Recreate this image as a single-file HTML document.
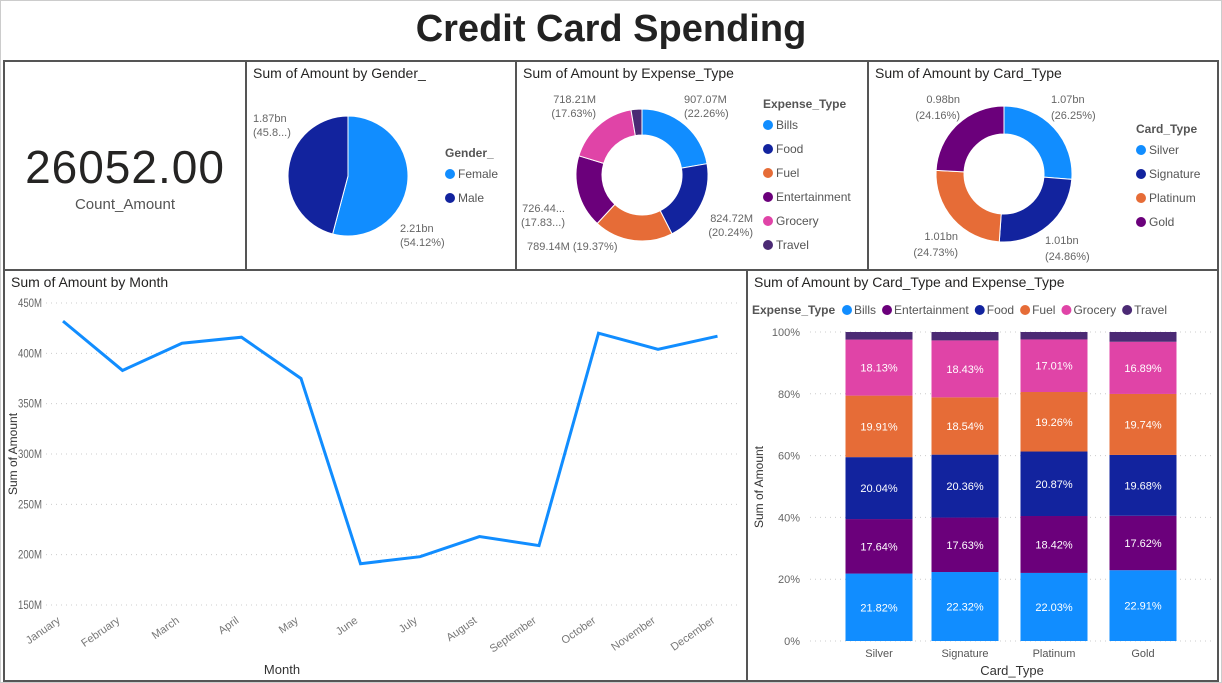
<!DOCTYPE html>
<html><head><meta charset="utf-8">
<style>
body{margin:0;width:1222px;height:683px;background:#fff;font-family:"Liberation Sans",sans-serif;overflow:hidden;position:relative}
.panel{position:absolute;border:2px solid #555;box-sizing:border-box;background:#fff}
.ttl{position:absolute;left:6px;top:3px;font-size:14px;color:#252423}
svg text{font-family:"Liberation Sans",sans-serif}
</style></head><body>
<div style="position:absolute;left:0;top:8px;width:1222px;text-align:center;font-size:38px;font-weight:bold;color:#222">Credit Card Spending</div>
<div style="position:absolute;left:0;top:0;width:1222px;height:683px;border:1px solid #ccc;box-sizing:border-box"></div>

<div class="panel" style="left:3px;top:60px;width:244px;height:211px">
 <div style="position:absolute;left:0;top:78px;width:100%;text-align:center;font-size:46px;color:#252423;letter-spacing:1px">26052.00</div>
 <div style="position:absolute;left:0;top:134px;width:100%;text-align:center;font-size:15px;color:#555">Count_Amount</div>
</div>
<div class="panel" style="left:245px;top:60px;width:272px;height:211px"><div class="ttl">Sum of Amount by Gender_</div></div>
<div class="panel" style="left:515px;top:60px;width:354px;height:211px"><div class="ttl">Sum of Amount by Expense_Type</div></div>
<div class="panel" style="left:867px;top:60px;width:352px;height:211px"><div class="ttl">Sum of Amount by Card_Type</div></div>
<div class="panel" style="left:3px;top:269px;width:745px;height:413px"><div class="ttl">Sum of Amount by Month</div></div>
<div class="panel" style="left:746px;top:269px;width:473px;height:413px"><div class="ttl">Sum of Amount by Card_Type and Expense_Type</div></div>

<svg id="svg" width="1222" height="683" style="position:absolute;left:0;top:0"></svg>

<script>
const genderCats=["Female","Male"];
const genderVals=[54.12,45.88];
const genderLabels=["2.21bn","1.87bn"];
const genderPctLabels=["(54.12%)","(45.8...)"];
const expenseCats=["Bills","Food","Fuel","Entertainment","Grocery","Travel"];
const expenseVals=[22.26,20.24,19.37,17.83,17.63,2.67];
const cardCats=["Silver","Signature","Platinum","Gold"];
const cardVals=[26.25,24.86,24.73,24.16];
const months=["January","February","March","April","May","June","July","August","September","October","November","December"];
const monthVals=[432,383,410,416,375,191,198,218,209,420,404,417];
const monthTicks=[150,200,250,300,350,400,450];
const stackSeries=["Bills","Entertainment","Food","Fuel","Grocery","Travel"];
const stackBills=[21.82,22.32,22.03,22.91];
const stackEnt=[17.64,17.63,18.42,17.62];
const stackFood=[20.04,20.36,20.87,19.68];
const stackFuel=[19.91,18.54,19.26,19.74];
const stackGroc=[18.13,18.43,17.01,16.89];
const stackTravel=[2.46,2.72,2.41,3.16];
const pctTicks=[0,20,40,60,80,100];

const C={Bills:"#118DFF",Food:"#12239E",Fuel:"#E66C37",Entertainment:"#6B007B",Grocery:"#E044A7",Travel:"#4B2A74",Female:"#118DFF",Male:"#12239E",Silver:"#118DFF",Signature:"#12239E",Platinum:"#E66C37",Gold:"#6B007B"};
const svg=document.getElementById('svg');
const NS="http://www.w3.org/2000/svg";
function mk(tag,attrs,name,txt){const e=document.createElementNS(NS,tag);for(const k in attrs)e.setAttribute(k,attrs[k]);


if(txt!==undefined)e.textContent=txt;svg.appendChild(e);return e;}
function arc(cx,cy,ro,ri,a0,a1){const p=(r,a)=>[cx+r*Math.sin(a),cy-r*Math.cos(a)];const lg=(a1-a0)>Math.PI?1:0;
const [x0,y0]=p(ro,a0),[x1,y1]=p(ro,a1);
if(ri===0)return `M${cx},${cy}L${x0},${y0}A${ro},${ro} 0 ${lg} 1 ${x1},${y1}Z`;
const [x2,y2]=p(ri,a1),[x3,y3]=p(ri,a0);
return `M${x0},${y0}A${ro},${ro} 0 ${lg} 1 ${x1},${y1}L${x2},${y2}A${ri},${ri} 0 ${lg} 0 ${x3},${y3}Z`;}
function donut(cx,cy,ro,ri,cats,vals,name){const tot=vals.reduce((a,b)=>a+b,0);let a=0;
cats.forEach((c,i)=>{const a1=a+vals[i]/tot*2*Math.PI;mk('path',{d:arc(cx,cy,ro,ri,a,a1),fill:C[c],stroke:'#fff','stroke-width':1},name+'-slice-'+c.toLowerCase());a=a1;});}
function legend(x,y,title,cats,step,name){mk('text',{x:x,y:y,'font-size':12,'font-weight':'bold',fill:'#555'},name+'-title',title);
cats.forEach((c,i)=>{const yy=y+21+i*step;mk('circle',{cx:x+5,cy:yy-4,r:5,fill:C[c]},name+'-dot');mk('text',{x:x+13,y:yy,'font-size':12,fill:'#555'},name+'-entry',c);});}
function lbl(x,y,t,name,anchor){mk('text',{x:x,y:y,'font-size':11,fill:'#666','text-anchor':anchor||'start'},name,t);}

// gender pie
donut(348,176,60,0,genderCats,genderVals,'gender');
lbl(400,232,genderLabels[0],'gender-label-female');lbl(400,246,genderPctLabels[0],'gender-label-female-pct');
lbl(253,122,genderLabels[1],'gender-label-male');lbl(253,136,genderPctLabels[1],'gender-label-male-pct');
legend(445,157,"Gender_",genderCats,24,'gender-legend');
// expense donut
donut(642,175,66,40,expenseCats,expenseVals,'expense');
lbl(684,103,"907.07M",'exp-lbl');lbl(684,117,"(22.26%)",'exp-lbl');
lbl(596,103,"718.21M",'exp-lbl','end');lbl(596,117,"(17.63%)",'exp-lbl','end');
lbl(753,222,"824.72M",'exp-lbl','end');lbl(753,236,"(20.24%)",'exp-lbl','end');
lbl(565,212,"726.44...",'exp-lbl','end');lbl(565,226,"(17.83...)",'exp-lbl','end');
lbl(527,250,"789.14M (19.37%)",'exp-lbl');
legend(763,108,"Expense_Type",expenseCats,24,'expense-legend');
// card donut
donut(1004,174,68,40,cardCats,cardVals,'card');
lbl(1051,103,"1.07bn",'card-lbl');lbl(1051,119,"(26.25%)",'card-lbl');
lbl(960,103,"0.98bn",'card-lbl','end');lbl(960,119,"(24.16%)",'card-lbl','end');
lbl(1045,244,"1.01bn",'card-lbl');lbl(1045,260,"(24.86%)",'card-lbl');
lbl(958,240,"1.01bn",'card-lbl','end');lbl(958,256,"(24.73%)",'card-lbl','end');
legend(1136,133,"Card_Type",cardCats,24,'card-legend');

// line chart
const ly=v=>605-(v-150)*(302/300), lx=i=>63+i*59.5;
monthTicks.forEach(t=>{mk('line',{x1:46,x2:740,y1:ly(t),y2:ly(t),stroke:'#ccc','stroke-dasharray':'1,4'},'month-gridline');
mk('text',{x:42,y:ly(t)+4,'font-size':12,fill:'#666','text-anchor':'end',textLength:24,lengthAdjust:'spacingAndGlyphs'},'month-y-tick',t+'M');});
mk('polyline',{points:monthVals.map((v,i)=>lx(i)+','+ly(v)).join(' '),fill:'none',stroke:'#118DFF','stroke-width':3},'month-line');
months.forEach((m,i)=>{mk('text',{x:lx(i)-2,y:622,'font-size':11,fill:'#777','text-anchor':'end',transform:`rotate(-35 ${lx(i)-2} 622)`},'month-x-tick',m);});
mk('text',{x:282,y:674,'font-size':13,fill:'#333','text-anchor':'middle'},'month-x-title','Month');
mk('text',{x:17,y:454,'font-size':12,fill:'#333','text-anchor':'middle',transform:'rotate(-90 17 454)'},'month-y-title','Sum of Amount');

// stacked
const sy=p=>641-p*3.09, bx=[879,965,1054,1143], bw=67;
pctTicks.forEach(t=>{mk('line',{x1:810,x2:1212,y1:sy(t),y2:sy(t),stroke:'#ccc','stroke-dasharray':'1,4'},'stack-gridline');
mk('text',{x:800,y:sy(t)+4,'font-size':11,fill:'#666','text-anchor':'end'},'stack-y-tick',t+'%');});
const stackData=[stackBills,stackEnt,stackFood,stackFuel,stackGroc,stackTravel];
cardCats.forEach((c,j)=>{let base=0;stackData.forEach((arr,k)=>{const v=arr[j];
mk('rect',{x:bx[j]-bw/2,y:sy(base+v),width:bw,height:v*3.09,fill:C[stackSeries[k]]},'stack-bar-'+c.toLowerCase()+'-'+stackSeries[k].toLowerCase());
if(v>5)mk('text',{x:bx[j],y:sy(base+v/2)+4,'font-size':11,fill:'#fff','text-anchor':'middle'},'stack-bar-label',v.toFixed(2)+'%');
base+=v;});
mk('text',{x:bx[j],y:657,'font-size':11,fill:'#555','text-anchor':'middle'},'stack-x-tick',c);});
mk('text',{x:1012,y:675,'font-size':13,fill:'#333','text-anchor':'middle'},'stack-x-title','Card_Type');
mk('text',{x:763,y:487,'font-size':12,fill:'#333','text-anchor':'middle',transform:'rotate(-90 763 487)'},'stack-y-title','Sum of Amount');
mk('text',{x:752,y:314,'font-size':12,'font-weight':'bold',fill:'#555'},'stack-legend-title','Expense_Type');
let lxp=842;stackSeries.forEach(s=>{mk('circle',{cx:lxp+5,cy:310,r:5,fill:C[s]},'stack-legend-dot');
const t=mk('text',{x:lxp+12,y:314,'font-size':12,fill:'#555'},'stack-legend-entry',s);lxp+=12+t.getComputedTextLength()+6;});
</script>
</body></html>
